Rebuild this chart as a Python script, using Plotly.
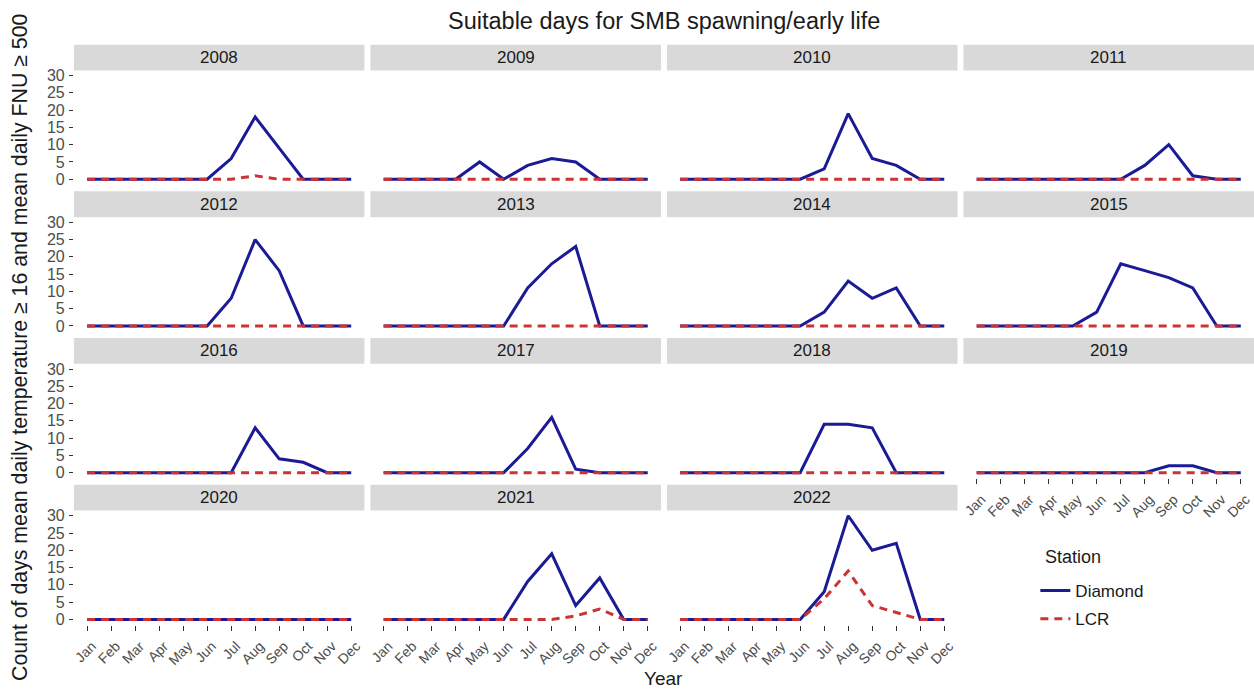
import plotly.graph_objects as go

# ---------------- data ----------------
months = ["Jan", "Feb", "Mar", "Apr", "May", "Jun", "Jul", "Aug", "Sep", "Oct", "Nov", "Dec"]
month_num = list(range(1, 13))
years = [2008, 2009, 2010, 2011, 2012, 2013, 2014, 2015, 2016, 2017, 2018, 2019, 2020, 2021, 2022]

diamond = {
    2008: [0, 0, 0, 0, 0, 0, 6, 18, 9, 0, 0, 0],
    2009: [0, 0, 0, 0, 5, 0, 4, 6, 5, 0, 0, 0],
    2010: [0, 0, 0, 0, 0, 0, 3, 19, 6, 4, 0, 0],
    2011: [0, 0, 0, 0, 0, 0, 0, 4, 10, 1, 0, 0],
    2012: [0, 0, 0, 0, 0, 0, 8, 25, 16, 0, 0, 0],
    2013: [0, 0, 0, 0, 0, 0, 11, 18, 23, 0, 0, 0],
    2014: [0, 0, 0, 0, 0, 0, 4, 13, 8, 11, 0, 0],
    2015: [0, 0, 0, 0, 0, 4, 18, 16, 14, 11, 0, 0],
    2016: [0, 0, 0, 0, 0, 0, 0, 13, 4, 3, 0, 0],
    2017: [0, 0, 0, 0, 0, 0, 7, 16, 1, 0, 0, 0],
    2018: [0, 0, 0, 0, 0, 0, 14, 14, 13, 0, 0, 0],
    2019: [0, 0, 0, 0, 0, 0, 0, 0, 2, 2, 0, 0],
    2020: [0, 0, 0, 0, 0, 0, 0, 0, 0, 0, 0, 0],
    2021: [0, 0, 0, 0, 0, 0, 11, 19, 4, 12, 0, 0],
    2022: [0, 0, 0, 0, 0, 0, 8, 30, 20, 22, 0, 0],
}
lcr = {
    2008: [0, 0, 0, 0, 0, 0, 0, 1, 0, 0, 0, 0],
    2009: [0] * 12,
    2010: [0] * 12,
    2011: [0] * 12,
    2012: [0] * 12,
    2013: [0] * 12,
    2014: [0] * 12,
    2015: [0] * 12,
    2016: [0] * 12,
    2017: [0] * 12,
    2018: [0] * 12,
    2019: [0] * 12,
    2020: [0] * 12,
    2021: [0, 0, 0, 0, 0, 0, 0, 0, 1, 3, 0, 0],
    2022: [0, 0, 0, 0, 0, 0, 6, 14, 4, 2, 0, 0],
}
y_ticks = [0, 5, 10, 15, 20, 25, 30]

# ---------------- layout geometry (pixels) ----------------
W, H = 1254, 694
PANEL_W, GAP_X, LEFT = 291, 6, 72
STRIP_TOP0, ROW_PITCH, STRIP_H, PANEL_H = 42, 148, 26, 115

BLUE = "#1b1b96"
RED = "#cc3333"
FONT = "Liberation Sans, Arial, Helvetica, sans-serif"

def px_x(p):
    return p / W

def px_y(p):
    return 1 - p / H

fig = go.Figure()
layout = dict(
    width=W, height=H,
    margin=dict(l=0, r=0, t=0, b=0),
    paper_bgcolor="white", plot_bgcolor="white",
    font=dict(family=FONT, color="#1a1a1a"),
    showlegend=True,
)
shapes = []
annotations = []

xlab_panels = {2019, 2020, 2021, 2022}

for i, yr in enumerate(years):
    r, c = divmod(i, 4)
    n = i + 1
    xa = "x" if n == 1 else f"x{n}"
    ya = "y" if n == 1 else f"y{n}"
    xkey = "xaxis" if n == 1 else f"xaxis{n}"
    ykey = "yaxis" if n == 1 else f"yaxis{n}"

    x0 = LEFT + c * (PANEL_W + GAP_X)
    x1 = x0 + PANEL_W
    st = STRIP_TOP0 + r * ROW_PITCH
    pt = st + STRIP_H
    pb = pt + PANEL_H

    show_x = yr in xlab_panels
    show_y = c == 0

    layout[xkey] = dict(
        domain=[px_x(x0), px_x(x1)], anchor=ya,
        range=[0.45, 12.55], tickmode="array", tickvals=month_num, ticktext=months,
        showgrid=False, zeroline=False, showline=False,
        ticks="outside" if show_x else "", ticklen=5, tickwidth=1.4, tickcolor="#333333",
        showticklabels=show_x, tickangle=-45, ticklabelshift=5, ticklabelstandoff=2,
        tickfont=dict(size=14, color="#4d4d4d", family=FONT),
        fixedrange=True,
    )
    layout[ykey] = dict(
        domain=[px_y(pb), px_y(pt)], anchor=xa,
        range=[-1.5, 31.5], tickmode="array", tickvals=y_ticks,
        showgrid=False, zeroline=False, showline=False,
        ticks="outside" if show_y else "", ticklen=4, tickwidth=1.4, tickcolor="#333333",
        showticklabels=show_y, ticklabelstandoff=1,
        tickfont=dict(size=16, color="#4d4d4d", family=FONT),
        fixedrange=True,
    )

    # strip
    shapes.append(dict(type="rect", xref="paper", yref="paper",
                       x0=px_x(x0), x1=px_x(x1), y0=px_y(pt), y1=px_y(st),
                       fillcolor="#d9d9d9", line=dict(width=0), layer="below"))
    annotations.append(dict(text=str(yr), xref="paper", yref="paper",
                            x=px_x((x0 + x1) / 2), y=px_y((st + pt) / 2),
                            xanchor="center", yanchor="middle", showarrow=False,
                            font=dict(size=17, color="#1a1a1a", family=FONT)))

    fig.add_trace(go.Scatter(
        x=month_num, y=diamond[yr], xaxis=xa, yaxis=ya, mode="lines",
        line=dict(color=BLUE, width=3), name="Diamond",
        legendgroup="Diamond", showlegend=(i == 0),
    ))
    fig.add_trace(go.Scatter(
        x=month_num, y=lcr[yr], xaxis=xa, yaxis=ya, mode="lines",
        line=dict(color=RED, width=3, dash="8px,6px"), name="LCR",
        legendgroup="LCR", showlegend=(i == 0),
    ))

# titles
annotations.append(dict(text="Suitable days for SMB spawning/early life", xref="paper", yref="paper",
                        x=px_x(663), y=px_y(18), xanchor="center", yanchor="middle",
                        showarrow=False, font=dict(size=23.5, color="#1a1a1a", family=FONT)))
annotations.append(dict(text="Year", xref="paper", yref="paper",
                        x=px_x(663), y=px_y(681), xanchor="center", yanchor="middle",
                        showarrow=False, font=dict(size=19, color="#1a1a1a", family=FONT)))
annotations.append(dict(text="Count of days mean daily temperature \u2265 16 and mean daily FNU \u2265 500",
                        xref="paper", yref="paper", x=px_x(18), y=px_y(347),
                        xanchor="center", yanchor="middle", textangle=-90,
                        showarrow=False, font=dict(size=21.3, color="#1a1a1a", family=FONT)))
# legend title
annotations.append(dict(text="Station", xref="paper", yref="paper",
                        x=px_x(1043), y=px_y(559), xanchor="left", yanchor="middle",
                        showarrow=False, font=dict(size=18, color="#1a1a1a", family=FONT)))

layout["shapes"] = shapes
layout["annotations"] = annotations
layout["legend"] = dict(
    font=dict(size=17, color="#1a1a1a", family=FONT),
    x=px_x(1035), y=px_y(575), xanchor="left", yanchor="top",
    bgcolor="rgba(0,0,0,0)", itemwidth=30, tracegroupgap=3,
)
fig.update_layout(**layout)

fig.write_html("out.html")
